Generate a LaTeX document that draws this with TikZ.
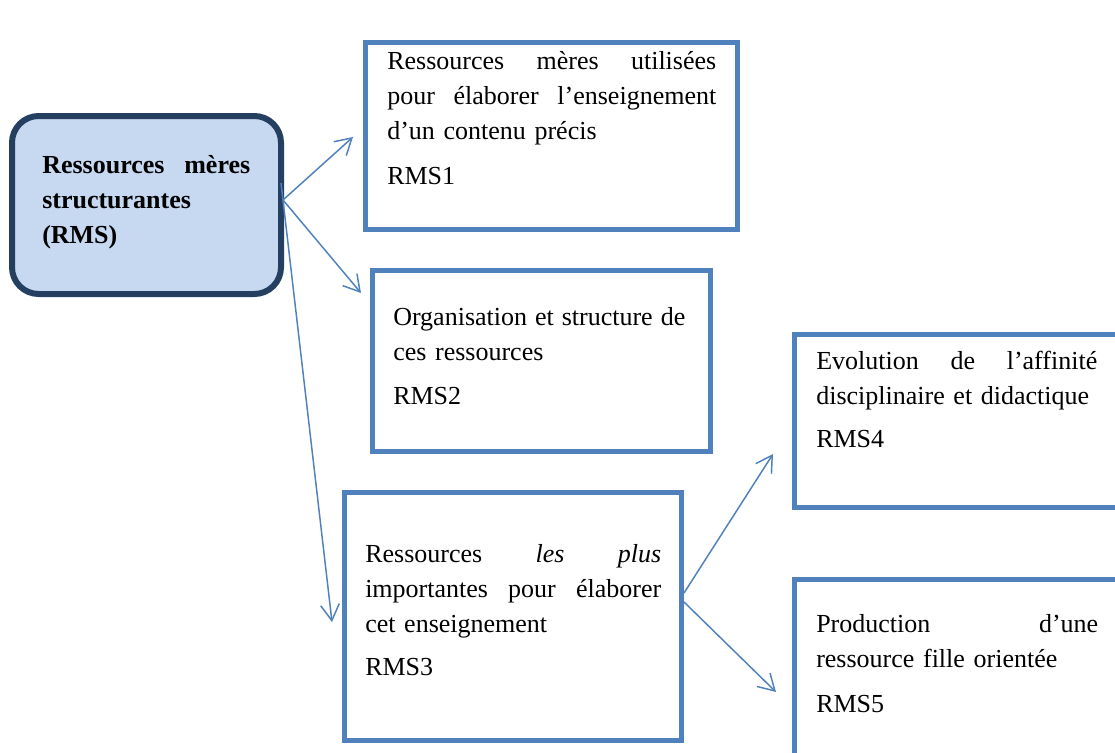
\documentclass[tikz,border=0pt]{standalone}
\usepackage{fontspec}
\setmainfont{Liberation Serif}
\usetikzlibrary{arrows.meta,fit}
\definecolor{boxblue}{HTML}{4F81BD}
\definecolor{rmsfill}{HTML}{C6D9F1}
\definecolor{rmsline}{HTML}{243F60}
\newcommand\jl[2]{\makebox[#1][l]{#2}}
\begin{document}
\begin{tikzpicture}[x=0.75pt,y=-0.75pt,
  box/.style={draw=boxblue, line width=3.75pt, inner sep=0pt, fit={#1}},
  txt/.style={anchor=base west, inner sep=0pt, text width=#1,
    font=\fontsize{19.5pt}{26.6pt}\selectfont},
  lbl/.style={anchor=base west, inner sep=0pt,
    font=\fontsize{19.5pt}{26.6pt}\selectfont},
  arr/.style={draw=boxblue, line width=1.1pt,
    -{Straight Barb[length=12pt,width=14pt]}}]
\useasboundingbox (0,0) rectangle (1115,753);
\clip (0,0) rectangle (1115,753);
\fill[white] (0,0) rectangle (1115,753);

% central box
\node[draw=rmsline, fill=rmsfill, line width=4.5pt, rounded corners=20pt,
      inner sep=0pt, fit={(12,116) (281,294)}] (rms) {};
\node[txt=156pt] (t0) at (42,173)
  {\bfseries\jl{156pt}{Ressources\hfill mères}\\ structurantes\\ (RMS)};

% boxes
\node[box={(365.5,42.5) (737.5,229.5)}] (b1) {};
\node[box={(372.5,270) (710.5,451)}] (b2) {};
\node[box={(344.5,492) (681,740)}] (b3) {};
\node[box={(794.5,334.5) (1140,507)}] (b4) {};
\node[box={(794.5,579.5) (1140,780)}] (b5) {};

% texts
\node[txt=246.75pt] (t1) at (387,69)
  {\jl{246.75pt}{Ressources\hfill mères\hfill utilisées}\\
   \jl{246.75pt}{pour\hfill élaborer\hfill l’enseignement}\\
   d’un contenu précis};
\node[lbl] (r1) at (387,184) {RMS1};

\node[txt=219pt] (t2) at (393,325)
  {\jl{219pt}{Organisation\hfill et\hfill structure\hfill de}\\ ces ressources};
\node[lbl] (r2) at (393,404) {RMS2};

\node[txt=222pt] (t3) at (365,562)
  {\jl{222pt}{Ressources\hfill \textit{les}\hfill \textit{plus}}\\
   \jl{222pt}{importantes\hfill pour\hfill élaborer}\\
   cet enseignement};
\node[lbl] (r3) at (365,675) {RMS3};

\node[txt=210.75pt] (t4) at (816,369)
  {\jl{210.75pt}{Evolution\hfill de\hfill l’affinité}\\ disciplinaire et didactique};
\node[lbl] (r4) at (816,447) {RMS4};

\node[txt=211.5pt] (t5) at (816,632)
  {\jl{211.5pt}{Production\hfill d’une}\\ ressource fille orientée};
\node[lbl] (r5) at (816,712) {RMS5};

% connector ends
\coordinate (o1) at (283,200);
\coordinate (o3) at (281,183);
\coordinate (e1) at (353,137);
\coordinate (e2) at (361,293);
\coordinate (e3) at (332,622);
\coordinate (o4) at (684,593);
\coordinate (o5) at (684,602);
\coordinate (e4) at (773,454);
\coordinate (e5) at (776,692);

\draw[arr] (o1) -- (e1);
\draw[arr] (o1) -- (e2);
\draw[arr] (o3) -- (e3);
\draw[arr] (o4) -- (e4);
\draw[arr] (o5) -- (e5);
\end{tikzpicture}
\end{document}
